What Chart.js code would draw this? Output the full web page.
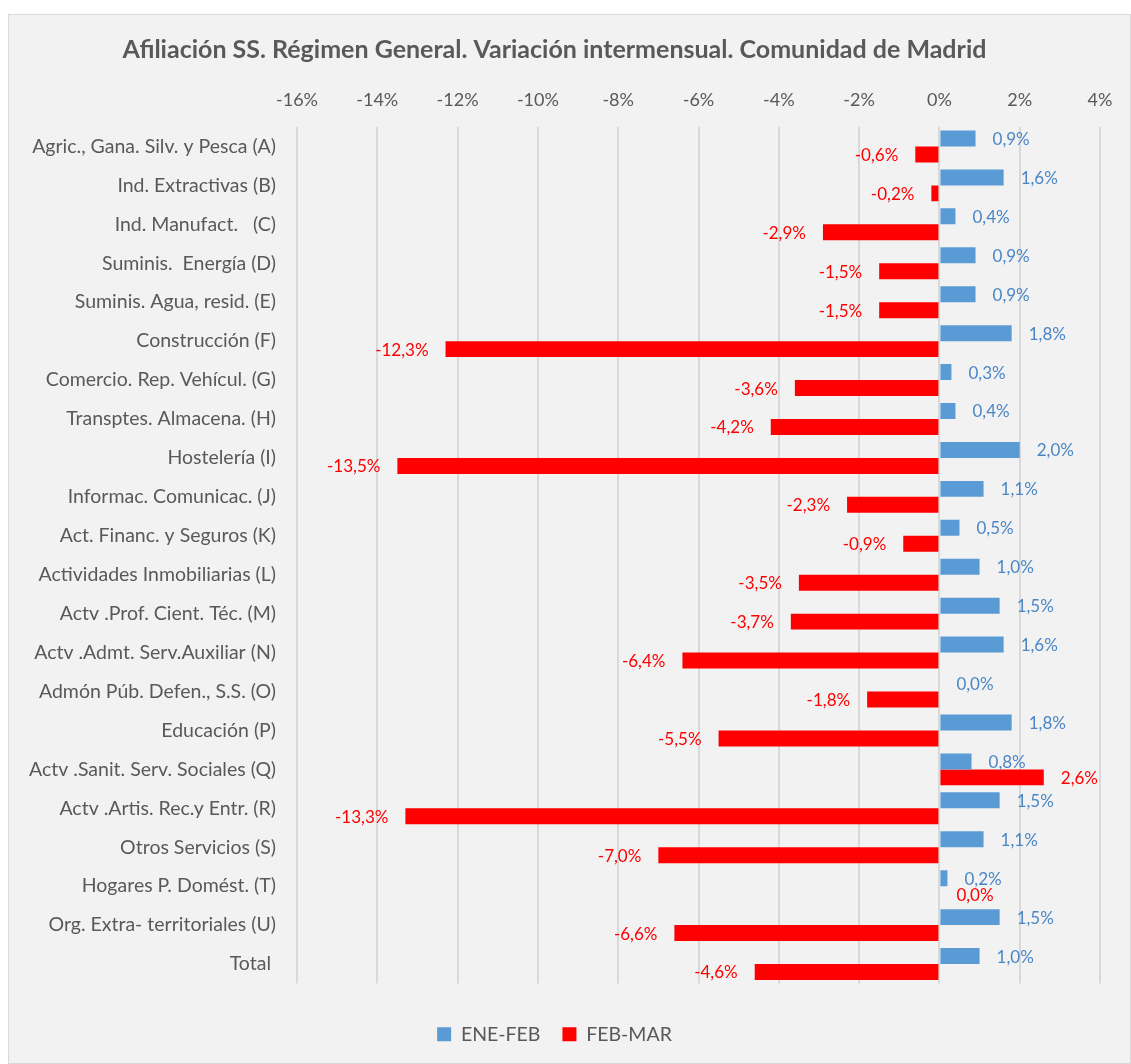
<!DOCTYPE html>
<html>
<head>
<meta charset="utf-8">
<script src="https://cdn.jsdelivr.net/npm/chart.js@4"></script>
<style>
body { margin: 0; background: #fff; }
#box { position: absolute; left: 8px; top: 14px; width: 1123px; height: 1050px;
       background: #f2f2f2; border: 1px solid #d9d9d9; box-sizing: border-box; }
</style>
</head>
<body>
<div id="box"><canvas id="afiliacion-chart"></canvas></div>
<script>
var categories = ['Agric., Gana. Silv. y Pesca (A)', 'Ind. Extractivas (B)', 'Ind. Manufact.   (C)',
	'Suminis.  Energía (D)', 'Suminis. Agua, resid. (E)', 'Construcción (F)', 'Comercio. Rep. Vehícul. (G)',
	'Transptes. Almacena. (H)', 'Hostelería (I)', 'Informac. Comunicac. (J)', 'Act. Financ. y Seguros (K)',
	'Actividades Inmobiliarias (L)', 'Actv .Prof. Cient. Téc. (M)', 'Actv .Admt. Serv.Auxiliar (N)',
	'Admón Púb. Defen., S.S. (O)', 'Educación (P)', 'Actv .Sanit. Serv. Sociales (Q)', 'Actv .Artis. Rec.y Entr. (R)',
	'Otros Servicios (S)', 'Hogares P. Domést. (T)', 'Org. Extra- territoriales (U)', 'Total '];
var eneFeb = [0.9, 1.6, 0.4, 0.9, 0.9, 1.8, 0.3, 0.4, 2.0, 1.1, 0.5, 1.0, 1.5, 1.6, 0.0, 1.8, 0.8, 1.5, 1.1, 0.2, 1.5, 1.0];
var febMar = [-0.6, -0.2, -2.9, -1.5, -1.5, -12.3, -3.6, -4.2, -13.5, -2.3, -0.9, -3.5, -3.7, -6.4, -1.8, -5.5, 2.6, -13.3, -7.0, 0.0, -6.6, -4.6];
var xMin = -16, xMax = 4, xStep = 2;

var labelColors = ['#4a86c5', '#ff0000'];

Chart.defaults.font.family = 'Lato, "Open Sans", sans-serif';
Chart.defaults.color = '#595959';

// value labels at the end of each bar
var valueLabels = {
	id: 'valueLabels',
	afterDatasetsDraw: function(chart) {
		var ctx = chart.ctx;
		ctx.save();
		ctx.font = '17px Lato, "Open Sans", sans-serif';
		ctx.textBaseline = 'middle';
		chart.data.datasets.forEach(function(ds, i) {
			chart.getDatasetMeta(i).data.forEach(function(bar, j) {
				var v = ds.data[j];
				var txt = Math.abs(v).toFixed(1).replace('.', ',') + '%';
				if (v < 0) txt = '-' + txt;
				ctx.fillStyle = labelColors[i];
				if (v < 0) {
					ctx.textAlign = 'right';
					ctx.fillText(txt, bar.x - 17, bar.y + 1);
				} else {
					ctx.textAlign = 'left';
					ctx.fillText(txt, bar.x + 17, bar.y + 1);
				}
			});
		});
		ctx.restore();
	}
};

var ctx = document.getElementById('afiliacion-chart').getContext('2d');
var myChart = new Chart(ctx, {
	type: 'bar',
	data: {
		labels: categories,
		datasets: [{
			label: 'ENE-FEB',
			data: eneFeb,
			backgroundColor: '#5b9bd5',
			borderWidth: 0,
			xAxisID: 'x'
		}, {
			label: 'FEB-MAR',
			data: febMar,
			backgroundColor: '#ff0000',
			borderWidth: 0,
			xAxisID: 'x'
		}]
	},
	options: {
		indexAxis: 'y',
		responsive: true,
		maintainAspectRatio: false,
		animation: false,
		layout: { padding: { left: 0, right: 30, top: 0, bottom: 9 } },
		datasets: { bar: { categoryPercentage: 0.82, barPercentage: 1 } },
		plugins: {
			title: {
				display: true,
				text: 'Afiliación SS. Régimen General. Variación intermensual. Comunidad de Madrid',
				color: '#595959',
				font: { size: 25, weight: 'bold' },
				padding: { top: 20, bottom: 10 }
			},
			legend: {
				position: 'bottom',
				labels: { boxWidth: 14, boxHeight: 14, padding: 22, font: { size: 19.5 }, color: '#595959' }
			},
			tooltip: { enabled: false }
		},
		scales: {
			x: {
				position: 'top',
				min: xMin,
				max: xMax,
				ticks: { stepSize: xStep, padding: 16, font: { size: 18 }, color: '#595959',
					callback: function(v) { return v + '%'; } },
				grid: { color: '#d9d9d9', lineWidth: 2, drawTicks: false },
				border: { display: false },
				afterFit: function(s) { s.height = 52; }
			},
			y: {
				ticks: { padding: 21, font: { size: 19.5 }, color: '#595959' },
				grid: { display: false, drawTicks: false },
				border: { display: false },
				afterFit: function(s) { s.width = 288; }
			},
			pad: {
				axis: 'x',
				type: 'linear',
				position: 'bottom',
				display: true,
				grid: { display: false, drawTicks: false },
				border: { display: false },
				ticks: { display: false },
				afterFit: function(s) { s.height = 19; }
			}
		}
	},
	plugins: [valueLabels]
});
</script>
</body>
</html>
